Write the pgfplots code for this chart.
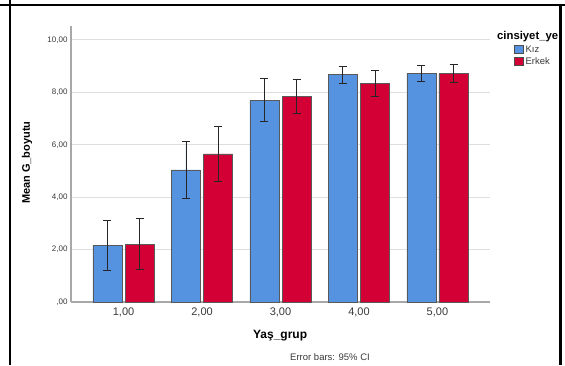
\documentclass[border=0pt]{standalone}
\usepackage{fontspec}
\setmainfont{Liberation Sans}
\usepackage{pgfplots}
\pgfplotsset{compat=1.18}
\definecolor{kiz}{HTML}{5592E0}
\definecolor{erkek}{HTML}{D20034}
\definecolor{axgray}{HTML}{A8A8A8}
\definecolor{gridgray}{HTML}{DEDEDE}
\definecolor{txtgray}{HTML}{3A3A3A}
\begin{document}
\begin{tikzpicture}[x=1pt,y=1pt]
\useasboundingbox[fill=white] (0,0) rectangle (565,-365);
\begin{axis}[
  at={(71pt,-302pt)}, anchor=south west,
  scale only axis, width=419pt, height=276pt,
  xmin=0.33, xmax=5.67, ymin=0, ymax=10.53,
  axis lines=left, axis line style={-, draw=axgray, line width=1.3pt},
  major tick length=0pt,
  ytick={0,2,4,6,8,10},
  yticklabels={{,00},{2,00},{4,00},{6,00},{8,00},{10,00}},
  xtick={1,2,3,4,5},
  xticklabels={{1,00},{2,00},{3,00},{4,00},{5,00}},
  yticklabel style={font=\fontsize{8}{9}\selectfont, text=txtgray},
  xticklabel style={font=\fontsize{11}{12}\selectfont, text=txtgray, yshift=-2pt},
  /pgf/number format/assume math mode=true,
  ymajorgrids, grid style={draw=gridgray, line width=0.9pt},
  ylabel={\textbf{Mean G\_boyutu}},
  ylabel style={font=\fontsize{11}{12}\selectfont, at={(axis description cs:-0.105,0.505)}, anchor=center},
  xlabel={\textbf{Yaş\_grup}},
  xlabel style={font=\fontsize{12}{13}\selectfont, at={(axis description cs:0.499,-0.123)}, anchor=center},
  ybar, bar width=0.37,
  legend cell align=left,
  legend style={at={(axis description cs:1.057,0.935)}, anchor=north west, draw=none, fill=none,
    font=\fontsize{9.5}{10}\selectfont, text=txtgray, row sep=-1pt, inner sep=0pt,
    /tikz/every even column/.append style={column sep=1pt}},
  legend image code/.code={\draw[#1, draw=black!70, line width=0.5pt] (0pt,-3.5pt) rectangle (9pt,4.5pt);},
  error bars/error bar style={line width=0.8pt, draw=black!85},
  error bars/error mark options={line width=0.8pt, mark size=4pt, draw=black!85, rotate=90},
]
\addplot[fill=kiz, draw=black!65, line width=0.6pt, bar shift=-0.205,
  error bars/.cd, y dir=both, y explicit]
  coordinates {(1,2.16) +- (0,0.95) (2,5.04) +- (0,1.10) (3,7.70) +- (0,0.82) (4,8.67) +- (0,0.33) (5,8.72) +- (0,0.31)};
\addplot[fill=erkek, draw=black!65, line width=0.6pt, bar shift=0.205,
  error bars/.cd, y dir=both, y explicit]
  coordinates {(1,2.21) +- (0,0.97) (2,5.65) +- (0,1.04) (3,7.84) +- (0,0.65) (4,8.33) +- (0,0.50) (5,8.71) +- (0,0.34)};
\legend{Kız,Erkek}
\end{axis}
\node[anchor=west, font=\fontsize{11.3}{12}\selectfont\bfseries, inner sep=0pt] at (497,-37) {cinsiyet\_ye};
\node[font=\fontsize{9.5}{10}\selectfont, text=txtgray] at (330,-357) {Error bars: 95\% CI};
\fill[white] (560,-4) rectangle (565,-365);
\draw[line width=2.5pt] (0,-5) -- (565,-5);
\draw[line width=2pt] (10,0) -- (10,-365);
\draw[line width=2.5pt] (560.5,-5) -- (560.5,-365);
\end{tikzpicture}
\end{document}
